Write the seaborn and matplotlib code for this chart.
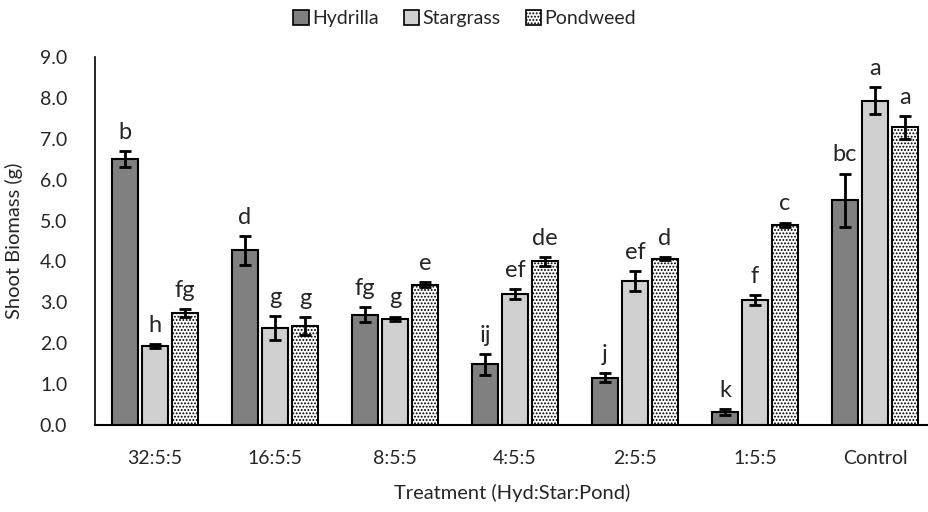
import matplotlib
matplotlib.use("Agg")
import matplotlib.pyplot as plt
from matplotlib.patches import Patch
import seaborn as sns
import pandas as pd

# Data
treatments = ["32:5:5", "16:5:5", "8:5:5", "4:5:5", "2:5:5", "1:5:5", "Control"]
species = ["Hydrilla", "Stargrass", "Pondweed"]

hydrilla = [6.50, 4.27, 2.70, 1.48, 1.16, 0.32, 5.50]
stargrass = [1.93, 2.37, 2.60, 3.20, 3.52, 3.06, 7.93]
pondweed = [2.73, 2.42, 3.43, 4.00, 4.07, 4.90, 7.28]

hydrilla_err = [0.20, 0.35, 0.18, 0.25, 0.10, 0.07, 0.65]
stargrass_err = [0.05, 0.30, 0.05, 0.12, 0.25, 0.12, 0.33]
pondweed_err = [0.10, 0.22, 0.06, 0.10, 0.03, 0.05, 0.28]

hydrilla_letters = ["b", "d", "fg", "ij", "j", "k", "bc"]
stargrass_letters = ["h", "g", "g", "ef", "ef", "f", "a"]
pondweed_letters = ["fg", "g", "e", "de", "d", "c", "a"]

means = {"Hydrilla": hydrilla, "Stargrass": stargrass, "Pondweed": pondweed}
errs = {"Hydrilla": hydrilla_err, "Stargrass": stargrass_err, "Pondweed": pondweed_err}
letters = {"Hydrilla": hydrilla_letters, "Stargrass": stargrass_letters, "Pondweed": pondweed_letters}

df = pd.DataFrame({
    "Treatment": treatments * 3,
    "Species": [s for s in species for _ in treatments],
    "Biomass": hydrilla + stargrass + pondweed,
})

sns.set_style("white")
plt.rcParams["font.family"] = ["Lato", "DejaVu Sans"]
plt.rcParams["hatch.linewidth"] = 0.9
plt.rcParams["hatch.color"] = "black"

palette = {"Hydrilla": "#808080", "Stargrass": "#d0d0d0", "Pondweed": "white"}

fig = plt.figure(figsize=(9.29, 5.12), dpi=100)
ax = fig.add_axes([95 / 929, 87 / 512, 834 / 929, 368 / 512])

sns.barplot(data=df, x="Treatment", y="Biomass", hue="Species", order=treatments,
            hue_order=species, palette=palette, errorbar=None, width=0.75, gap=0.16,
            edgecolor="black", linewidth=1.5, legend=False, ax=ax)

# hatch pondweed, add error bars and letters
for cont, sp in zip(ax.containers, species):
    xs = []
    for bar in cont:
        xs.append(bar.get_x() + bar.get_width() / 2)
        if sp == "Pondweed":
            bar.set_hatch(".....")
    ax.errorbar(xs, means[sp], yerr=errs[sp], fmt="none", ecolor="black",
                elinewidth=2, capsize=4.5, capthick=2, zorder=5)
    for x, m, e, lab in zip(xs, means[sp], errs[sp], letters[sp]):
        ax.text(x, m + e + 0.2, lab, ha="center", va="bottom", fontsize=17)

ax.set_xlim(-0.5, 6.45)
ax.set_ylim(0, 9)
ax.set_yticks([i * 1.0 for i in range(10)])
ax.set_yticklabels([f"{i:.1f}" for i in range(10)])
ax.tick_params(axis="both", length=0, labelsize=14)
ax.tick_params(axis="x", pad=18)
ax.tick_params(axis="y", pad=20)
ax.set_xlabel("Treatment (Hyd:Star:Pond)", fontsize=14.5, labelpad=12)
ax.set_ylabel("Shoot Biomass (g)", fontsize=14.5, labelpad=12)
for s in ["top", "right"]:
    ax.spines[s].set_visible(False)
ax.spines["left"].set_linewidth(1.2)
ax.spines["bottom"].set_linewidth(1.5)
ax.spines["left"].set_color("black")
ax.spines["bottom"].set_color("black")

handles = [
    Patch(facecolor="#808080", edgecolor="black", linewidth=1.2, label="Hydrilla"),
    Patch(facecolor="#d0d0d0", edgecolor="black", linewidth=1.2, label="Stargrass"),
    Patch(facecolor="white", edgecolor="black", linewidth=1.2, hatch=".....", label="Pondweed"),
]
fig.legend(handles=handles, loc="upper center", bbox_to_anchor=(0.5, 1.015), ncol=3,
           frameon=False, fontsize=14, handlelength=0.8, handleheight=0.8,
           handletextpad=0.15, columnspacing=1.3)

fig.savefig("out.png", dpi=100)
